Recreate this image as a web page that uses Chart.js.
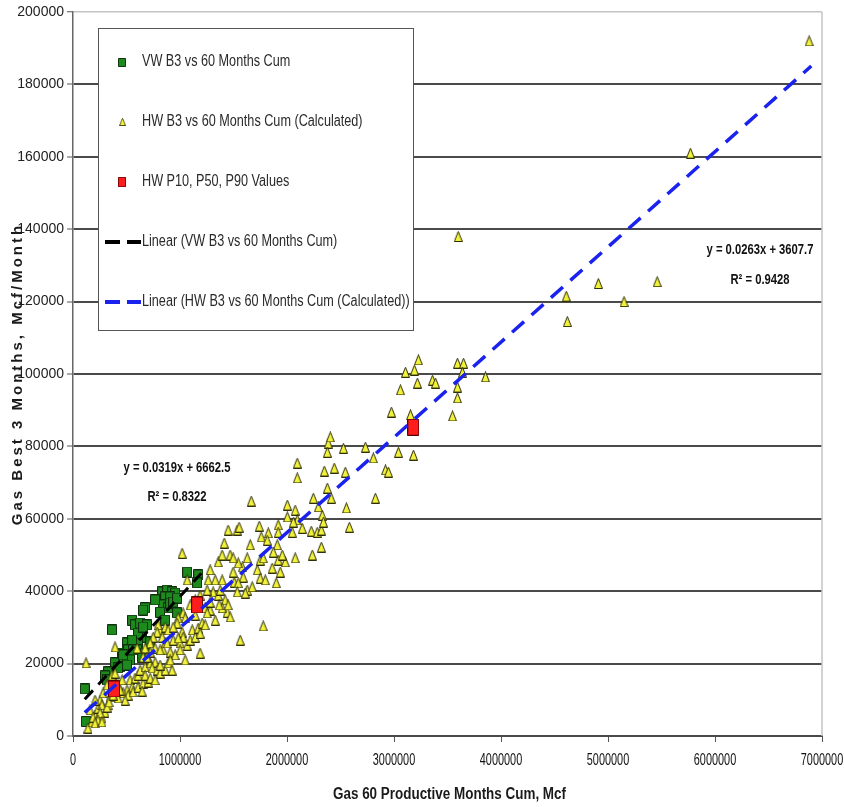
<!DOCTYPE html>
<html>
<head>
<meta charset="utf-8">
<script src="https://cdn.jsdelivr.net/npm/chart.js@4.4.1/dist/chart.umd.min.js"></script>
<style>
  html, body { margin: 0; padding: 0; background: #fff; }
  #wrap { width: 844px; height: 807px; }
</style>
</head>
<body>
<div id="wrap"><canvas id="chart" width="844" height="807"></canvas></div>
<script>
// [Gas 60 productive months cum (Mcf), gas best 3 months (Mcf/month)]
const vwData = [
  [1067000,45300],[1170000,44500],[1160000,42300],[833000,39800],[880000,40300],[926000,39800],[955000,39500],
  [861000,38400],[908000,38400],[842000,36200],[889000,35400],[908000,36700],[936000,37000],[973000,38100],
  [674000,35400],[552000,32000],[580000,30700],[627000,31200],[365000,29300],[646000,27300],[608000,25700],
  [599000,23800],[552000,24300],[505000,25700],[459000,22900],[487000,21500],[421000,20400],[533000,21000],
  [440000,19100],[393000,20200],[110000,13000],[120000,4000],[973000,34000],[721000,26000],[328000,17700],
  [300000,16600],[692000,30700],[674000,22900],[505000,19600],[767000,37600],[814000,34200],[655000,34800],
  [861000,32000],[608000,28400],[655000,30100],[552000,26500],[515000,23800],[561000,23800],[468000,22400],
  [421000,18800],[646000,21800],[318000,15500]
];

const hwData = [
  [140000,2200],[178000,3900],[206000,5800],[159000,7200],[234000,7700],[271000,5000],[299000,6600],
  [253000,9900],[328000,8600],[346000,10800],[206000,9900],[281000,11900],[365000,12700],[318000,14100],
  [393000,14900],[271000,8600],[253000,6400],[187000,5200],[234000,4400],[206000,3600],[271000,3900],
  [318000,8000],[337000,9400],
  [365000,16800],[393000,17400],[533000,15500],[580000,16000],[608000,16800],[552000,13500],[505000,12700],
  [468000,11900],[515000,11300],[561000,12200],[608000,13500],[655000,14600],[702000,14900],[646000,12400],
  [421000,14100],[440000,12700],[487000,9900],[421000,10500],[374000,11300],[459000,15500],[627000,18200],
  [674000,19100],[721000,20200],[767000,20400],[739000,18800],[122000,20200],[393000,24600],
  [786000,18200],[814000,17400],[861000,18200],[889000,20200],[926000,18200],[842000,23800],[861000,25700],
  [814000,29300],[861000,30100],[908000,23200],[795000,30700],[786000,28700],[833000,27300],[749000,27300],
  [721000,25700],[767000,24300],[814000,23800],[721000,23200],[674000,24300],[655000,21800],[599000,24300],
  [692000,21800],[889000,29300],[880000,25700],[936000,26500],[1001000,25700],[1067000,25100],[1020000,28700],
  [1029000,27300],[983000,27100],[1029000,34000],[1048000,32600],[983000,32600],[973000,31200],[936000,30100],
  [1095000,26500],[1114000,29300],[1142000,27300],[1170000,29800],[1188000,28400],[1207000,31200],[674000,16800],
  [721000,16000],[767000,15500],[814000,19600],[955000,22400],[1001000,23800],[1048000,21000],[908000,21000],
  [1067000,43100],[1020000,50500],[1188000,22900],[1235000,35400],[1282000,34800],[1254000,34000],[1310000,39800],
  [1357000,38900],[1422000,37600],[1441000,34200],[1469000,32900],[1394000,35400],[1282000,37000],[1366000,36200],
  [1450000,36200],[1254000,40300],[1376000,40300],[1282000,45900],[1263000,43100],[1329000,43100],[1394000,43100],
  [1497000,45300],[1507000,42500],[1582000,46700],[1591000,43900],[1544000,42300],[1628000,40300],[1675000,41200],
  [1535000,39800],[1610000,39500],[1142000,37600],[1095000,36200],[1188000,38900],[1235000,30700],[1329000,32000],
  [1142000,33400],[1357000,48100],[1413000,53300],[1394000,50000],[1469000,50000],[1544000,47800],
  [1722000,45900],[1750000,43600],[1797000,43100],[1750000,48600],[1778000,49200],[1862000,46400],[1918000,48600],
  [1984000,48100],[1937000,45300],[1900000,42300],[2077000,49200],[1656000,52800],[1628000,49200],[1497000,49200],
  [1450000,56900],[1535000,56900],[1553000,57700],[1741000,58000],[1759000,55000],[1825000,56100],[1666000,64900],
  [1563000,26500],[1778000,30400],[2003000,63800],[2077000,62400],[2096000,59700],[2049000,56300],[2143000,57400],
  [2003000,60500],[2059000,59100],[1918000,58300],[1918000,56300],[1815000,54100],[1909000,52800],[1872000,50800],
  [1956000,50000],[2237000,50000],[2096000,75400],[2096000,71300],[2227000,56600],[2283000,56300],[2321000,56900],
  [2321000,52200],[2330000,61000],[2340000,59100],[2293000,63300],[2246000,65700],[2377000,68500],[2414000,65700],
  [2349000,73200],[2442000,74000],[2555000,63000],[2583000,57700],[2386000,80900],[2405000,82600],[2377000,78400],
  [2527000,79500],[2545000,72900],[2733000,79800],[2807000,76800],[2826000,65700],[3041000,78400],[3182000,77600],
  [2920000,73500],[2948000,72900],[2976000,89500],[3060000,95600],[3107000,100500],[3191000,101100],[3228000,103900],
  [3219000,97500],[3360000,98300],[3388000,97500],[3593000,103000],[3650000,103000],[3640000,100500],[3593000,96400],
  [3593000,93400],[3547000,88400],[3855000,99200],[3154000,88700],[3600000,138000],[4610000,121500],[4620000,114500],
  [4910000,125000],[5150000,120000],[5460000,125500],[5770000,161000],[6880000,192000]
];

const pValues = [[383000,13000],[1160000,36200],[3180000,85300]];

// Excel linear trendlines, end points
const vwTrend = [[110000,10171],[1200000,44943]];
const hwTrend = [[110000,6501],[6900000,185078]];

const xTicks = [0, 1000000, 2000000, 3000000, 4000000, 5000000, 6000000, 7000000];
const yTicks = [0, 20000, 40000, 60000, 80000, 100000, 120000, 140000, 160000, 180000, 200000];

const legendItems = [
  'VW B3 vs 60 Months Cum',
  'HW B3 vs 60 Months Cum (Calculated)',
  'HW P10, P50, P90 Values',
  'Linear (VW B3 vs 60 Months Cum)',
  'Linear (HW B3 vs 60 Months Cum (Calculated))'
];

const SANS = "'Liberation Sans', Arial, sans-serif";

function marker(w, h, fill, stroke, tri) {
  const c = document.createElement('canvas');
  c.width = w; c.height = h;
  const g = c.getContext('2d');
  g.fillStyle = fill; g.strokeStyle = stroke; g.lineWidth = 1;
  g.beginPath();
  if (tri) { g.moveTo(w / 2, 0.5); g.lineTo(w - 0.5, h - 0.5); g.lineTo(0.5, h - 0.5); g.closePath(); }
  else g.rect(0.5, 0.5, w - 1, h - 1);
  g.fill(); g.stroke();
  return c;
}

const GREEN = '#1d8a1d', YELLOW = '#f2f23a', RED = '#ff1c1c';
const mkGreen = marker(10, 11, GREEN, '#0e2e0e');
const mkTri = marker(9, 11, YELLOW, '#2e2e0a', true);
const mkRed = marker(12, 17, RED, '#5a0000');

const toPts = arr => arr.map(p => ({ x: p[0], y: p[1] }));

// the picture uses a condensed face; squeeze Liberation Sans horizontally
function narrowText(ctx, text, x, y, sx) {
  ctx.save();
  ctx.translate(x, y);
  ctx.scale(sx, 1);
  ctx.fillText(text, 0, 0);
  ctx.restore();
}

const decor = {
  id: 'decor',
  beforeDatasetsDraw(chart) {
    const { ctx, chartArea: a } = chart;
    ctx.save();
    ctx.strokeStyle = '#c4c4c4';
    ctx.lineWidth = 1.5;
    ctx.beginPath();
    ctx.moveTo(a.right, a.top);
    ctx.lineTo(a.right, a.bottom);
    ctx.stroke();
    ctx.restore();
  },
  afterDraw(chart) {
    const { ctx, chartArea: a } = chart;
    ctx.save();
    ctx.textAlign = 'center';
    ctx.textBaseline = 'middle';

    // x tick labels from the x scale
    const xs = chart.scales.x;
    ctx.fillStyle = '#111';
    ctx.font = '16px ' + SANS;
    xs.ticks.forEach(t => narrowText(ctx, String(t.value), xs.getPixelForValue(t.value), 761, 0.68));

    // trendline equations
    ctx.fillStyle = '#111';
    ctx.font = 'bold 15px ' + SANS;
    narrowText(ctx, 'y = 0.0319x + 6662.5', 177, 468, 0.75);
    narrowText(ctx, 'R\u00b2 = 0.8322', 177, 497, 0.75);
    narrowText(ctx, 'y = 0.0263x + 3607.7', 760, 250, 0.75);
    narrowText(ctx, 'R\u00b2 = 0.9428', 760, 280, 0.75);

    // axis titles
    ctx.fillStyle = '#1a1a1a';
    ctx.font = 'bold 16px ' + SANS;
    narrowText(ctx, 'Gas 60 Productive Months Cum, Mcf', (a.left + a.right) / 2 + 2, 795, 0.84);
    ctx.save();
    ctx.translate(18, (a.top + a.bottom) / 2);
    ctx.rotate(-Math.PI / 2);
    ctx.font = 'bold 15px ' + SANS;
    ctx.letterSpacing = '3px';
    ctx.fillText('Gas Best 3 Months, Mcf/Month', 0, 0);
    ctx.restore();

    // legend box inside the plot
    const bx = 98, by = 28, bw = 315, bh = 302;
    ctx.fillStyle = '#fff';
    ctx.fillRect(bx, by, bw, bh);
    ctx.strokeStyle = '#555';
    ctx.lineWidth = 1;
    ctx.strokeRect(bx + 0.5, by + 0.5, bw, bh);
    ctx.font = '16px ' + SANS;
    ctx.fillStyle = '#2a2a2a';
    ctx.textAlign = 'left';
    const rows = [62, 122, 182, 242, 302];
    legendItems.forEach((t, i) => {
      const y = rows[i];
      if (i === 0) ctx.drawImage(mkGreen, 118, y - 4, 8, 9);
      if (i === 1) ctx.drawImage(mkTri, 119, y - 4, 7, 8);
      if (i === 2) ctx.drawImage(mkRed, 118, y - 5, 8, 10);
      if (i >= 3) {
        ctx.strokeStyle = i === 3 ? '#000' : '#1a22ee';
        ctx.lineWidth = 4;
        ctx.beginPath();
        ctx.moveTo(105, y); ctx.lineTo(120, y);
        ctx.moveTo(127, y); ctx.lineTo(141, y);
        ctx.stroke();
      }
      narrowText(ctx, t, 142, y, 0.79);
    });
    ctx.restore();
  }
};

new Chart(document.getElementById('chart'), {
  type: 'scatter',
  data: {
    datasets: [
      { label: legendItems[0], data: toPts(vwData), pointStyle: mkGreen, order: 5 },
      { label: legendItems[1], data: toPts(hwData), pointStyle: mkTri, order: 4 },
      { label: legendItems[2], data: toPts(pValues), pointStyle: mkRed, order: 3 },
      { label: legendItems[3], data: toPts(vwTrend), showLine: true, pointRadius: 0,
        borderColor: '#000', borderWidth: 3, borderDash: [12, 8], order: 2 },
      { label: legendItems[4], data: toPts(hwTrend), showLine: true, pointRadius: 0,
        borderColor: '#1a22ee', borderWidth: 3.5, borderDash: [16, 10], order: 1 }
    ]
  },
  options: {
    responsive: false,
    devicePixelRatio: 1,
    animation: false,
    layout: { padding: { top: 12, right: 22, bottom: 0, left: 0 } },
    plugins: { legend: { display: false }, tooltip: { enabled: false } },
    scales: {
      x: {
        type: 'linear', min: 0, max: 7000000,
        afterFit(s) { s.height = 71; },
        afterBuildTicks(s) { s.ticks = xTicks.map(v => ({ value: v })); },
        ticks: { display: false },
        grid: { drawOnChartArea: false, tickLength: 6, tickColor: '#555', tickWidth: 1 },
        border: { display: true, color: '#4a4a4a', width: 2 }
      },
      y: {
        type: 'linear', min: 0, max: 200000,
        afterFit(s) { s.width = 73; },
        afterBuildTicks(s) { s.ticks = yTicks.map(v => ({ value: v })); },
        ticks: { padding: 3, color: '#222', font: { family: SANS, size: 14 }, callback: v => String(v) },
        grid: {
          color: c => (c.tick && c.tick.value === 200000) ? '#c4c4c4' : '#4a4a4a',
          lineWidth: c => (c.tick && c.tick.value === 200000) ? 1.5 : 2,
          tickLength: 6, tickColor: '#555', tickWidth: 1
        },
        border: { display: true, color: '#666', width: 1.5 }
      }
    }
  },
  plugins: [decor]
});
</script>
</body>
</html>
